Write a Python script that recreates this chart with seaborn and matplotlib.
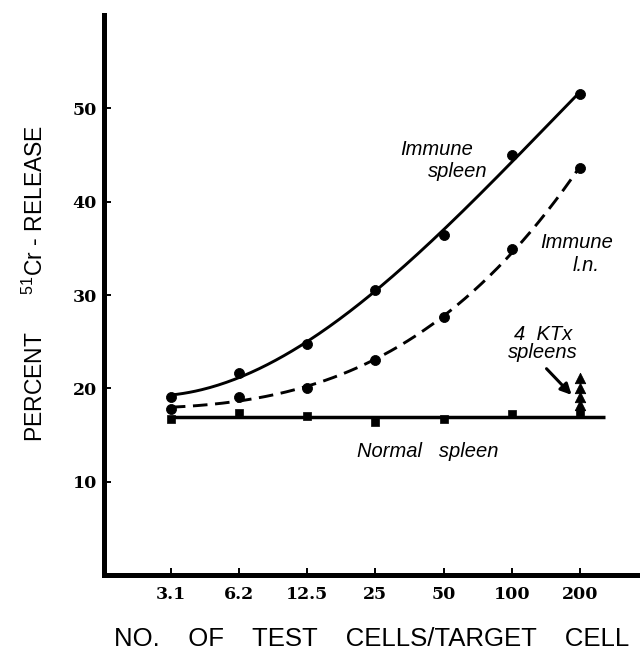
import numpy as np
import pandas as pd
import matplotlib
matplotlib.use("Agg")
import matplotlib.pyplot as plt
from matplotlib.ticker import NullLocator
import seaborn as sns

# ---- data ----
cells = [3.125, 6.25, 12.5, 25, 50, 100, 200]
tick_labels = ["3.1", "6.2", "12.5", "25", "50", "100", "200"]
immune_spleen = [19.1, 21.6, 24.8, 30.5, 36.4, 45.0, 51.5]
immune_ln = [17.8, 19.1, 20.0, 23.0, 27.6, 34.9, 43.6]
normal_spleen = [16.7, 17.4, 17.0, 16.4, 16.7, 17.2, 17.2]
ktx_cells = [200, 200, 200, 200]
ktx_values = [21.1, 20.0, 19.1, 18.2]
y_ticks = [10, 20, 30, 40, 50]

sns.set_style("ticks")
plt.rcParams.update({
    "font.family": ["Liberation Sans", "DejaVu Sans"],
    "mathtext.default": "regular",
    "text.color": "black",
    "axes.labelcolor": "black",
    "xtick.color": "black",
    "ytick.color": "black",
    "axes.edgecolor": "black",
})

fig = plt.figure(figsize=(6.4, 6.6), dpi=100)
ax = fig.add_axes([104 / 640, 85 / 660, 536 / 640, 560 / 660])

# smooth curves fitted through the measured points (in log2 space)
u = np.log2(np.array(cells) / cells[0])
uf = np.linspace(u.min(), u.max(), 200)
xf = cells[0] * 2 ** uf
fit_spleen = np.polyval(np.polyfit(u, immune_spleen, 3), uf)
fit_ln = np.polyval(np.polyfit(u, immune_ln, 3), uf)

sns.lineplot(x=xf, y=fit_spleen, ax=ax, color="black", lw=2.1)
sns.lineplot(x=xf, y=fit_ln, ax=ax, color="black", lw=2.1, linestyle=(0, (5, 2.6)))
ax.hlines(np.mean(normal_spleen), cells[0], cells[-1] * 2 ** 0.37, color="black", lw=2.5)

pts = pd.DataFrame({"cells": cells, "spleen": immune_spleen, "ln": immune_ln, "normal": normal_spleen})
sns.scatterplot(data=pts, x="cells", y="spleen", ax=ax, marker="o", s=52, color="black", edgecolor="black", zorder=3)
sns.scatterplot(data=pts, x="cells", y="ln", ax=ax, marker="o", s=52, color="black", edgecolor="black", zorder=3)
sns.scatterplot(data=pts, x="cells", y="normal", ax=ax, marker="s", s=38, color="black", edgecolor="black", zorder=3)
sns.scatterplot(x=ktx_cells, y=ktx_values, ax=ax, marker="^", s=56, color="black", edgecolor="black", zorder=3)

ax.set_xscale("log", base=2)
ax.set_xlim(cells[0] / 2 ** 0.98, cells[-1] * 2 ** 0.88)
ax.set_ylim(0, 60)
ax.set_xticks(cells, tick_labels)
ax.xaxis.set_minor_locator(NullLocator())
ax.set_yticks(y_ticks, [str(t) for t in y_ticks])

for s in ["top", "right"]:
    ax.spines[s].set_visible(False)
for s in ["left", "bottom"]:
    ax.spines[s].set_linewidth(3.6)
    ax.spines[s].set_color("black")

ax.tick_params(axis="both", direction="in", length=5, width=1.4, color="black")
ax.tick_params(axis="x", pad=8)
ax.tick_params(axis="y", pad=5)
for lbl in ax.get_xticklabels() + ax.get_yticklabels():
    lbl.set_fontfamily("DejaVu Serif")
    lbl.set_fontweight("heavy")
    lbl.set_fontsize(12.5)
    lbl.set_color("black")

ax.set_xlabel("NO.    OF    TEST    CELLS/TARGET    CELL", fontsize=18.5, color="black")
ax.xaxis.set_label_coords(0.5, -0.114)
ax.xaxis.label.set_va("center")
ax.set_ylabel("PERCENT" + " " * 6 + "$^{51}$Cr - RELEASE", fontsize=16.5, color="black")
ax.yaxis.set_label_coords((35 - 104) / 536, (575 - 283) / 560)
ax.yaxis.label.set_va("center")

kw = dict(transform=ax.transAxes, ha="center", va="center", fontsize=14.5, style="italic", color="black")
ax.text(0.621, 0.759, "Immune", **kw)
ax.text(0.660, 0.720, "spleen", **kw)
ax.text(0.881, 0.593, "Immune", **kw)
ax.text(0.899, 0.552, "l.n.", **kw)
ax.text(0.819, 0.429, "4  KTx", **kw)
ax.text(0.819, 0.398, "spleens", **kw)
ax.text(0.604, 0.220, "Normal   spleen", **kw)
ax.annotate("", xy=(0.876, 0.318), xytext=(0.822, 0.372), xycoords="axes fraction",
            textcoords="axes fraction",
            arrowprops=dict(arrowstyle="-|>", lw=2.2, color="black", mutation_scale=16))

fig.savefig("out.png", dpi=100)
